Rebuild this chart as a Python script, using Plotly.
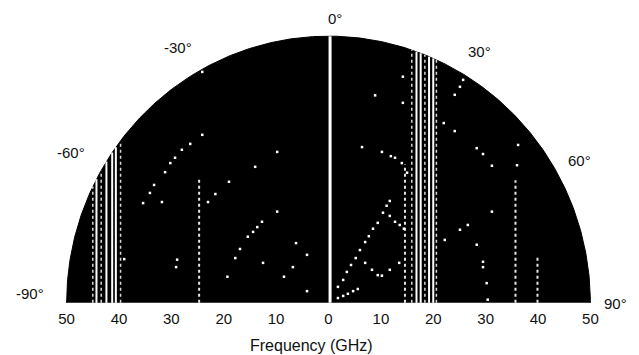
import numpy as np
import plotly.graph_objects as go

# ---- data -------------------------------------------------------------
R_MAX = 50  # outer frequency limit (GHz)

freq_ticks = [-50, -40, -30, -20, -10, 0, 10, 20, 30, 40, 50]
angle_ticks = [-90, -60, -30, 0, 30, 60, 90]

# full-height spectral lines (signed frequency, GHz)
center_line = [0.3]
bright_lines = [16.8, 17.6, 19.2, 20.0, -44.3, -42.4, -41.3, -40.6]
faint_lines = [15.9, 18.4, 20.6, -45.0, -43.4, -39.7]

# partial dotted lines: position and upper end (GHz)
partial_x = [-24.7, 35.7, 39.9, 14.6]
partial_top = [23.4, 23.0, 8.5, 26.0]

# isolated scatter points
dot_x = [1.8, 2.8, 3.5, 4.3, 5.2, 6.0, 7.0, 7.7, 8.5, 9.4, 10.4, 11.1, 11.7,
         1.8, 2.8, 3.7, 4.7, 5.6,
         8.3, 9.4, 10.2, 11.7, 13.5, 7.0,
         11.7, 12.7, 13.6, 14.4,
         8.9, 14.2, 14.2, 6.4, 10.2, 11.9, 12.7, 14.0, 15.0,
         25.7, 25.1, 24.1, 22.0, 24.1, 28.3, 29.5, 31.2, 36.2, 36.0,
         26.6, 25.1, 28.3, 29.5, 29.5, 30.2, 30.4, 31.2, 22.2,
         -31.2, -30.2, -29.3, -28.0, -26.4, -24.1,
         -24.1, -9.8, -14.0,
         -34.1, -35.4, -33.3, -31.8, -39.0, -28.9, -23.0, -21.6, -19.0,
         -16.9, -17.8, -13.6, -12.7, -15.4, -14.4, -19.3, -9.8, -6.2,
         -8.5, -4.1, -6.8, -12.5, -4.1, -29.1]
dot_y = [3.0, 4.3, 5.8, 7.1, 8.4, 9.9, 11.4, 12.5, 13.9, 15.0, 16.9, 18.2, 19.1,
         0.9, 1.3, 1.7, 2.2, 2.6,
         6.2, 5.2, 5.1, 6.2, 7.5, 7.5,
         16.3, 15.2, 14.6, 13.9,
         38.9, 42.4, 37.5, 29.2, 28.3, 27.5, 27.2, 26.2, 24.4,
         41.8, 40.5, 39.0, 33.7, 32.2, 29.0, 27.9, 25.7, 29.6, 25.8,
         14.6, 13.7, 10.9, 7.7, 6.7, 3.7, 0.6, 17.1, 11.8,
         24.5, 26.2, 27.2, 28.7, 29.8, 31.5,
         43.3, 28.3, 25.5,
         20.6, 18.7, 22.1, 18.9, 8.2, 8.1, 18.9, 20.4, 22.7,
         10.1, 8.4, 14.2, 15.2, 12.4, 13.3, 4.9, 17.1, 11.2,
         4.9, 9.0, 6.7, 7.5, 2.2, 6.7]

# ---- layout constants -------------------------------------------------
FONT = "Liberation Sans, Arial, sans-serif"
INK = "#111111"
# text centres of the angle labels, in paper fractions
angle_label_xy = [(-0.064, 0.041), (0.014, 0.561), (0.2155, 0.950),
                  (0.512, 1.059), (0.7845, 0.934), (0.9745, 0.533),
                  (1.0416, 0.006)]


def segments(xs, tops):
    sx, sy = [], []
    for x, top in zip(xs, tops):
        sx += [x, x, None]
        sy += [0, top, None]
    return sx, sy


def chord_top(x):
    return float(np.sqrt(max(R_MAX ** 2 - x ** 2, 0.0)))


fig = go.Figure()

# black half-disc
th = np.radians(np.linspace(-90, 90, 361))
fig.add_trace(go.Scatter(
    x=R_MAX * np.sin(th), y=R_MAX * np.cos(th), mode="lines",
    fill="toself", fillcolor="black", line=dict(color="black", width=1),
    hoverinfo="skip", showlegend=False))

# full-height lines
cx, cy = segments(center_line, [chord_top(x) for x in center_line])
fig.add_trace(go.Scatter(x=cx, y=cy, mode="lines",
                         line=dict(color="white", width=3),
                         showlegend=False, hoverinfo="skip"))
bx, by = segments(bright_lines, [chord_top(x) for x in bright_lines])
fig.add_trace(go.Scatter(x=bx, y=by, mode="lines",
                         line=dict(color="white", width=2),
                         showlegend=False, hoverinfo="skip"))
fx, fy = segments(faint_lines, [chord_top(x) for x in faint_lines])
fig.add_trace(go.Scatter(x=fx, y=fy, mode="lines",
                         line=dict(color="white", width=1.5, dash="dot"),
                         opacity=0.85, showlegend=False, hoverinfo="skip"))

# partial dotted lines
px_, py_ = segments(partial_x, partial_top)
fig.add_trace(go.Scatter(x=px_, y=py_, mode="lines",
                         line=dict(color="white", width=2, dash="dot"),
                         opacity=0.9, showlegend=False, hoverinfo="skip"))

# scattered points
fig.add_trace(go.Scatter(x=dot_x, y=dot_y, mode="markers",
                         marker=dict(color="white", size=2.5, symbol="square",
                                     line=dict(width=0)),
                         showlegend=False, hoverinfo="skip"))

# angle labels
for ang, (ax_, ay_) in zip(angle_ticks, angle_label_xy):
    fig.add_annotation(x=ax_, y=ay_, xref="paper", yref="paper",
                       text=f"{ang}°", showarrow=False,
                       xanchor="center", yanchor="middle",
                       font=dict(family=FONT, size=15, color=INK))

# axis title
fig.add_annotation(x=0.467, y=-0.148, xref="paper", yref="paper",
                   text="Frequency (GHz)", showarrow=False,
                   xanchor="center", yanchor="middle",
                   font=dict(family=FONT, size=16, color=INK))

fig.update_layout(
    width=639, height=355,
    margin=dict(l=64, r=46, t=34, b=50),
    paper_bgcolor="white", plot_bgcolor="white",
    xaxis=dict(range=[-50.5, 50.5], tickvals=freq_ticks,
               ticktext=[str(abs(v)) for v in freq_ticks],
               showgrid=False, zeroline=False, showline=False, ticks="",
               tickfont=dict(family=FONT, size=15, color=INK),
               ticklabelstandoff=3, fixedrange=True),
    yaxis=dict(range=[-0.4, 50.4], visible=False, fixedrange=True),
)

fig.write_html("out.html")
